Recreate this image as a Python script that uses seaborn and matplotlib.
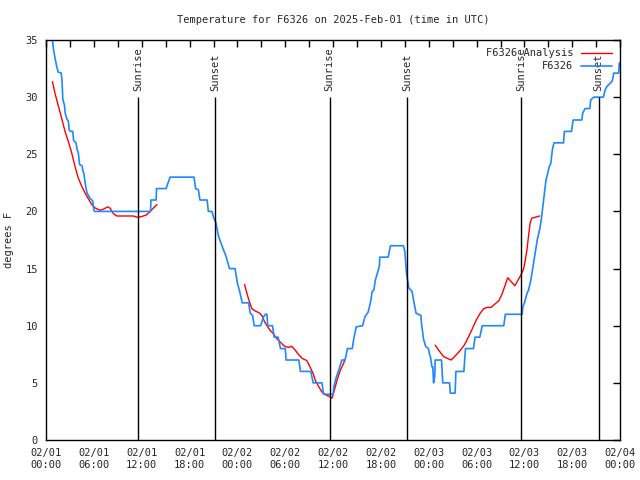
import pandas as pd
import matplotlib.pyplot as plt
import matplotlib.dates as mdates
import seaborn as sns

start = pd.Timestamp("2025-02-01 00:00")

# observed temperature (hours since start, deg F)
obs_hours = [0.8, 0.9, 1.1, 1.3, 1.5, 1.9, 2.0, 2.1, 2.3, 2.4, 2.6, 2.8, 2.9, 3.1, 3.35,
             3.45, 3.75, 3.9, 4.05, 4.2, 4.5, 4.6, 4.75, 4.9, 5.1, 5.3, 5.5, 5.75, 5.85,
             5.95, 6.05, 13.1, 13.15, 13.8, 13.85, 15.05, 15.55, 18.55, 18.75, 19.1, 19.3,
             20.2, 20.35, 20.8, 21.0, 21.3, 21.6, 22.0, 22.6, 23.0, 23.7, 24.0, 24.25,
             24.6, 25.4, 25.6, 25.9, 26.1, 26.9, 27.3, 27.5, 27.7, 27.8, 28.4, 28.6, 29.1,
             29.4, 30.0, 30.1, 31.7, 31.9, 33.2, 33.5, 34.6, 34.8, 36.0, 36.1, 36.4, 36.7,
             37.1, 37.5, 37.8, 38.4, 38.6, 38.9, 39.7, 40.0, 40.4, 40.7, 40.9, 41.1, 41.3,
             41.8, 41.85, 42.9, 43.2, 44.8, 45.0, 45.2, 45.5, 45.9, 46.1, 46.4, 47.0, 47.1,
             47.35, 47.6, 47.95, 48.1, 48.2, 48.4, 48.5, 48.6, 48.75, 48.8, 49.6, 49.75,
             50.6, 50.7, 51.3, 51.4, 52.4, 52.6, 53.6, 53.8, 54.4, 54.7, 57.4, 57.6, 59.7,
             59.8, 60.0, 60.3, 60.5, 60.8, 61.0, 61.2, 61.4, 61.6, 61.9, 62.1, 62.3, 62.5,
             62.7, 62.9, 63.1, 63.3, 63.5, 63.7, 64.9, 65.0, 65.9, 66.1, 67.2, 67.3, 67.6,
             68.2, 68.3, 68.7, 69.9, 70.1, 70.3, 71.0, 71.2, 71.8, 71.9]
obs_temps = [35.0, 34.3, 33.5, 32.8, 32.2, 32.1, 31.4, 29.8, 29.3, 28.6, 28.1, 27.9, 27.1,
             27.0, 27.0, 26.2, 26.0, 25.4, 25.1, 24.1, 24.0, 23.6, 23.3, 22.5, 21.7, 21.4,
             21.15, 21.0, 20.9, 20.3, 20.0, 20.0, 21.0, 21.0, 22.0, 22.0, 23.0, 23.0, 22.0,
             21.9, 21.0, 21.0, 20.0, 20.0, 19.5, 19.0, 17.9, 17.1, 16.0, 15.0, 15.0, 13.7,
             13.1, 12.0, 12.0, 11.1, 10.9, 10.0, 10.0, 10.8, 11.0, 11.0, 10.0, 10.0, 9.0,
             9.0, 8.0, 8.0, 7.0, 7.0, 6.0, 6.0, 5.0, 5.0, 4.0, 4.0, 4.7, 5.5, 6.1, 7.0, 7.0,
             8.0, 8.0, 8.9, 9.9, 10.0, 10.8, 11.2, 12.1, 13.0, 13.1, 14.0, 15.2, 16.0, 16.0,
             17.0, 17.0, 16.5, 14.6, 13.3, 13.0, 12.2, 11.1, 10.9, 10.1, 8.8, 8.2, 8.0, 7.5,
             7.3, 6.4, 6.4, 5.0, 5.6, 7.0, 7.0, 5.0, 5.0, 4.1, 4.1, 6.0, 6.0, 8.0, 8.0, 9.0,
             9.0, 10.0, 10.0, 11.0, 11.0, 11.7, 12.0, 12.8, 13.1, 14.0, 14.9, 15.75, 16.6,
             17.5, 18.4, 19.25, 20.4, 21.6, 22.75, 23.3, 23.9, 24.2, 25.4, 26.0, 26.0, 27.0,
             27.0, 28.0, 28.0, 28.6, 29.0, 29.0, 29.75, 30.0, 30.0, 30.6, 30.9, 31.4, 32.1,
             32.1, 33.0]

# analysis, three separate runs
ana1_hours = [0.8, 1.13, 1.55, 1.97, 2.38, 2.8, 3.22, 3.64, 4.05, 4.47, 4.9, 5.3, 5.73,
              6.15, 6.78, 7.2, 7.74, 8.0, 8.45, 8.87, 9.7, 10.95, 11.4, 11.7, 12.2, 12.6,
              13.05, 13.46, 13.9]
ana1_temps = [31.35, 30.3, 29.2, 28.1, 27.0, 26.1, 25.1, 23.9, 22.9, 22.2, 21.6, 21.1, 20.6,
              20.3, 20.1, 20.2, 20.4, 20.3, 19.8, 19.6, 19.6, 19.6, 19.5, 19.5, 19.6, 19.7,
              20.0, 20.3, 20.6]
ana2_hours = [24.9, 25.2, 25.5, 25.8, 26.2, 26.8, 27.1, 27.4, 27.8, 28.1, 28.5, 28.9, 29.4,
              29.9, 30.4, 30.8, 31.2, 31.7, 32.1, 32.7, 33.0, 33.5, 33.75, 34.2, 34.6, 35.2,
              35.6, 35.85, 36.1, 36.5, 36.9, 37.3, 37.5]
ana2_temps = [13.6, 12.8, 12.1, 11.5, 11.3, 11.1, 10.85, 10.35, 9.9, 9.6, 9.3, 8.9, 8.55,
              8.2, 8.1, 8.2, 7.9, 7.45, 7.15, 6.95, 6.55, 5.8, 5.25, 4.66, 4.2, 3.9, 3.8,
              3.65, 4.2, 5.25, 6.1, 6.7, 7.05]
ana3_hours = [48.8, 49.2, 49.85, 50.3, 50.8, 51.3, 51.9, 52.45, 53.0, 53.5, 54.0, 54.45,
              54.9, 55.3, 55.8, 56.3, 56.8, 57.2, 57.5, 57.9, 58.4, 58.8, 59.2, 59.6, 59.9,
              60.1, 60.3, 60.5, 60.7, 60.9, 61.4, 61.9]
ana3_temps = [8.3, 7.9, 7.3, 7.15, 7.0, 7.35, 7.8, 8.3, 9.04, 9.8, 10.56, 11.1, 11.5, 11.6,
              11.6, 11.9, 12.2, 12.8, 13.4, 14.2, 13.8, 13.5, 14.0, 14.5, 15.0, 15.75, 16.6,
              17.8, 18.96, 19.4, 19.5, 19.6]

sun_labels = ["Sunrise", "Sunset", "Sunrise", "Sunset", "Sunrise", "Sunset"]
sun_times = ["2025-02-01 11:34", "2025-02-01 21:12", "2025-02-02 11:34",
             "2025-02-02 21:15", "2025-02-03 11:34", "2025-02-03 21:18"]

obs = pd.DataFrame({"time": start + pd.to_timedelta(obs_hours, unit="h"), "temp": obs_temps})
ana = pd.concat([
    pd.DataFrame({"time": start + pd.to_timedelta(h, unit="h"), "temp": t, "seg": i})
    for i, (h, t) in enumerate([(ana1_hours, ana1_temps), (ana2_hours, ana2_temps),
                                (ana3_hours, ana3_temps)])
])

sns.set_style("white")
plt.rcParams["font.family"] = ["DejaVu Sans Mono"]

fig, ax = plt.subplots(figsize=(6.4, 4.8), dpi=100)
fig.subplots_adjust(left=0.072, right=0.969, top=0.9167, bottom=0.0833)

sns.lineplot(data=ana, x="time", y="temp", units="seg", estimator=None, sort=False,
             color="#ff0000", lw=1, label="F6326 Analysis", ax=ax)
sns.lineplot(data=obs, x="time", y="temp", estimator=None, sort=False,
             color="#1e88ff", lw=1.2, label="F6326", ax=ax)

sun_ts = pd.to_datetime(sun_times)
ax.vlines(sun_ts, 0, 30, color="black", lw=1)
for t, lab in zip(sun_ts, sun_labels):
    ax.text(t, 30.5, lab, rotation=90, ha="center", va="bottom", fontsize=7.5)

ax.set_xlim(start, start + pd.Timedelta(hours=72))
ax.set_ylim(0, 35)
ax.set_yticks(range(0, 36, 5))
ax.xaxis.set_major_locator(mdates.HourLocator(byhour=[0, 6, 12, 18]))
ax.xaxis.set_minor_locator(mdates.HourLocator(byhour=[3, 9, 15, 21]))
ax.xaxis.set_major_formatter(mdates.DateFormatter("%m/%d\n%H:%M"))
ax.tick_params(which="both", direction="in", top=True, right=True, length=5,
               width=1, labelsize=7.5, color="black", pad=6)
for s in ax.spines.values():
    s.set_color("black")
    s.set_linewidth(1)

ax.set_xlabel("")
ax.set_ylabel("degrees F", fontsize=7.5, labelpad=8)
ax.set_title("Temperature for F6326 on 2025-Feb-01 (time in UTC)", fontsize=7.5, pad=12)

# one legend entry per series
handles, labels = ax.get_legend_handles_labels()
seen = {}
for h, l in zip(handles, labels):
    seen.setdefault(l, h)
ax.legend(list(seen.values()), list(seen.keys()), loc="upper right", frameon=False,
          markerfirst=False, fontsize=7.5, handlelength=3, handletextpad=0.7,
          labelspacing=0.3, borderaxespad=0.4)

fig.savefig("out.png", dpi=100)
